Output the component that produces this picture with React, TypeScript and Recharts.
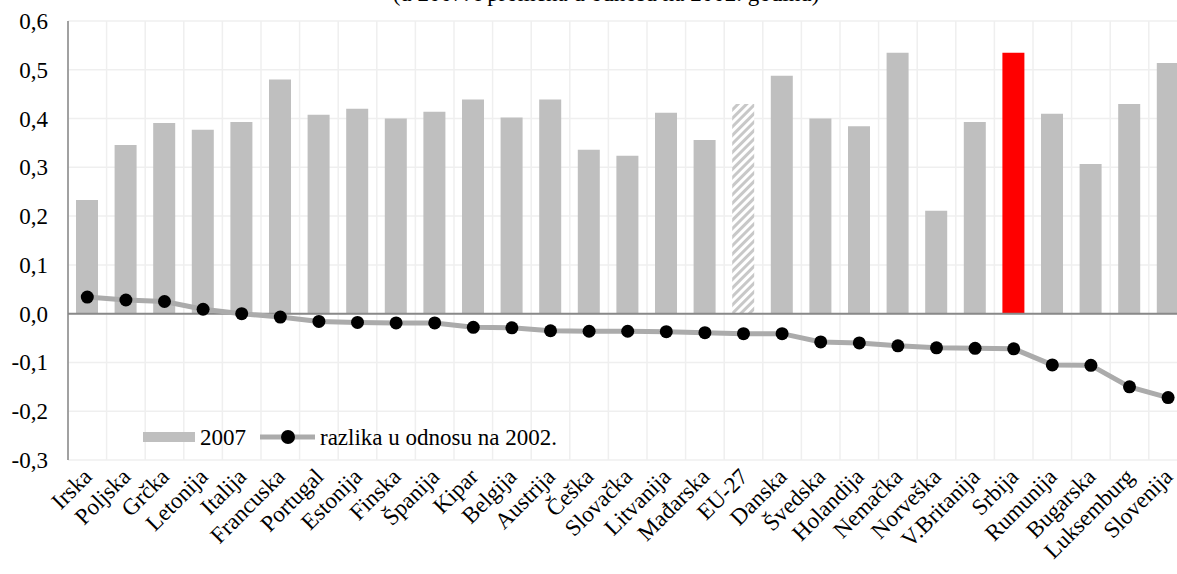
import React from 'react';
import { ComposedChart, Bar, Line, XAxis, YAxis, CartesianGrid, ReferenceLine, Legend, Cell } from 'recharts';

const countries = [
  'Irska', 'Poljska', 'Grčka', 'Letonija', 'Italija', 'Francuska', 'Portugal', 'Estonija',
  'Finska', 'Španija', 'Kipar', 'Belgija', 'Austrija', 'Češka', 'Slovačka', 'Litvanija',
  'Mađarska', 'EU-27', 'Danska', 'Švedska', 'Holandija', 'Nemačka', 'Norveška', 'V.Britanija',
  'Srbija', 'Rumunija', 'Bugarska', 'Luksemburg', 'Slovenija',
];

const values2007 = [
  0.233, 0.346, 0.391, 0.377, 0.393, 0.48, 0.408, 0.42,
  0.4, 0.414, 0.439, 0.402, 0.439, 0.336, 0.324, 0.412,
  0.356, 0.43, 0.488, 0.4, 0.384, 0.535, 0.211, 0.393,
  0.535, 0.41, 0.307, 0.43, 0.514,
];

const diffFrom2002 = [
  0.034, 0.028, 0.025, 0.009, 0.0, -0.007, -0.016, -0.018,
  -0.019, -0.019, -0.028, -0.029, -0.035, -0.036, -0.036, -0.037,
  -0.039, -0.041, -0.041, -0.058, -0.06, -0.066, -0.07, -0.071,
  -0.072, -0.105, -0.106, -0.15, -0.172,
];

const yTicks = [-0.3, -0.2, -0.1, 0, 0.1, 0.2, 0.3, 0.4, 0.5, 0.6];

const data = countries.map((name, i) => ({
  name,
  v2007: values2007[i],
  diff: diffFrom2002[i],
}));

const FONT = "'Liberation Serif', 'Times New Roman', serif";
const txt = { fontFamily: FONT, fontSize: 23 };

const barFill = (name: string) => {
  if (name === 'Srbija') return '#ff0000';
  if (name === 'EU-27') return 'url(#euHatch)';
  return '#bfbfbf';
};

const XTick = (props: any) => {
  const { x, y, payload } = props;
  return (
    <g transform={`translate(${x + 6},${y + 10})`}>
      <text x={0} y={0} textAnchor="end" transform="rotate(-45)" fill="#000" style={txt}>
        {payload.value}
      </text>
    </g>
  );
};

const YTick = (props: any) => {
  const { x, y, payload } = props;
  return (
    <text x={x} y={y} dy={8} textAnchor="end" fill="#000" style={txt}>
      {Number(payload.value).toFixed(1).replace('.', ',')}
    </text>
  );
};

const LegendBox = () => (
  <svg width={440} height={30} style={{ overflow: 'visible' }}>
    <rect x={3} y={7} width={52} height={10} fill="#bfbfbf" />
    <text x={60} y={20} fill="#000" style={txt}>2007</text>
    <line x1={120} y1={12} x2={175} y2={12} stroke="#ababab" strokeWidth={5} />
    <circle cx={148} cy={12} r={7} fill="#000" />
    <text x={180} y={20} fill="#000" style={txt}>razlika u odnosu na 2002.</text>
  </svg>
);

export default function App() {
  return (
    <div style={{ position: 'absolute', left: 0, top: 0, width: 1177, height: 574, overflow: 'hidden', background: '#fff', fontFamily: FONT }}>
      <svg width={0} height={0} style={{ position: 'absolute' }}>
        <defs>
          <pattern id="euHatch" patternUnits="userSpaceOnUse" width={6} height={6} patternTransform="rotate(45)">
            <rect width={6} height={6} fill="#ffffff" />
            <rect width={3} height={6} fill="#c8c8c8" />
          </pattern>
        </defs>
      </svg>
      <svg width={1177} height={20} style={{ position: 'absolute', left: 0, top: 0 }}>
        <text x={606} y={0.5} textAnchor="middle" fill="#000" style={txt}>
          (u 2007. i promena u odnosu na 2002. godinu)
        </text>
      </svg>
      <ComposedChart
        width={1200}
        height={574}
        data={data}
        margin={{ top: 21, right: 12.6, bottom: 0, left: 0 }}
      >
        <CartesianGrid
          stroke="#efefef"
          strokeWidth={1.5}
          verticalCoordinatesGenerator={({ offset }: any) =>
            Array.from({ length: countries.length + 1 }, (_, i) => offset.left + (i * offset.width) / countries.length)
          }
        />
        <XAxis
          dataKey="name"
          interval={0}
          height={114}
          axisLine={false}
          tickLine={false}
          tick={<XTick />}
        />
        <YAxis
          width={68}
          domain={[-0.3, 0.6]}
          ticks={yTicks}
          allowDataOverflow
          axisLine={{ stroke: '#868686', strokeWidth: 1.5 }}
          tickLine={false}
          tickMargin={14}
          tick={<YTick />}
        />
        <Bar dataKey="v2007" barSize={22} isAnimationActive={false}>
          {data.map((d) => (
            <Cell key={d.name} fill={barFill(d.name)} />
          ))}
        </Bar>
        <ReferenceLine y={0} stroke="#898989" strokeWidth={2} />
        <Line
          dataKey="diff"
          type="linear"
          stroke="#ababab"
          strokeWidth={5}
          dot={{ r: 6.5, fill: '#000', stroke: '#000', strokeWidth: 0 }}
          isAnimationActive={false}
        />
        <Legend
          layout="horizontal"
          verticalAlign="middle"
          content={() => <LegendBox />}
          wrapperStyle={{ left: 140, top: 425, width: 440, height: 30 }}
        />
      </ComposedChart>
    </div>
  );
}
